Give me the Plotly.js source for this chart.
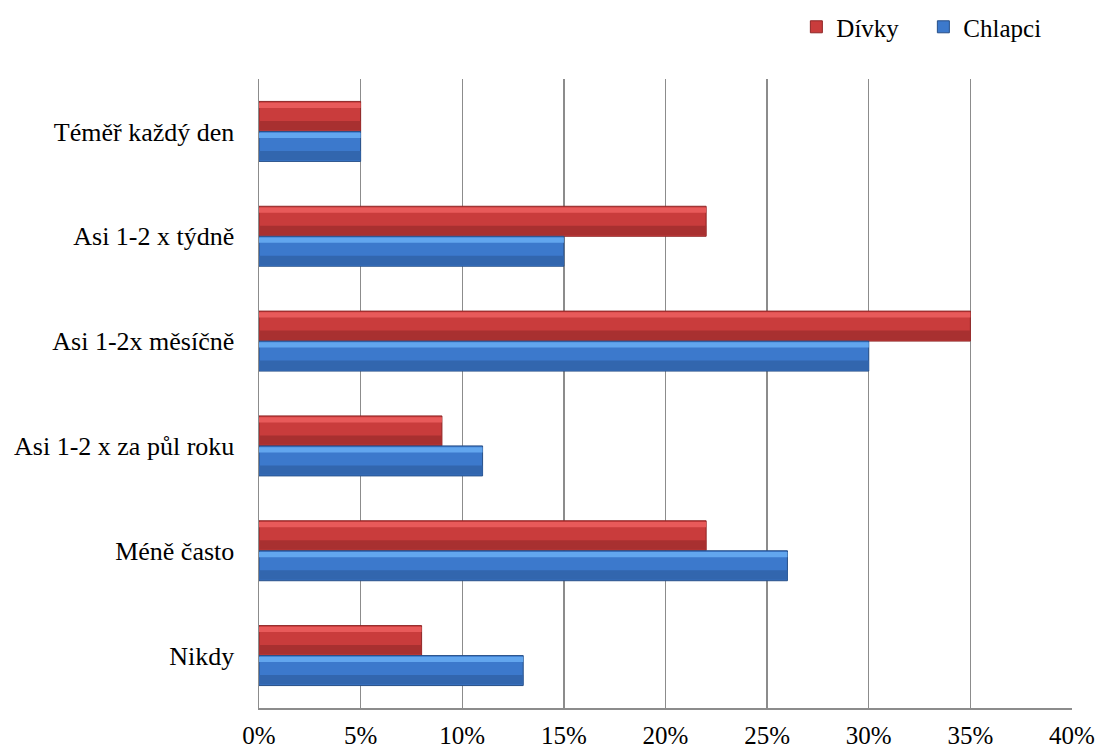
<!DOCTYPE html>
<html>
<head>
<meta charset="utf-8">
<script src="https://cdn.plot.ly/plotly-3.0.1.min.js"></script>
<style>html,body{margin:0;padding:0;background:#fff;}#chart{width:1103px;height:751px;}</style>
</head>
<body>
<div id="chart"></div>
<script>
const categories = ["Téměř každý den", "Asi 1-2 x týdně", "Asi 1-2x měsíčně", "Asi 1-2 x za půl roku", "Méně často", "Nikdy"];
const divky = [0.05, 0.22, 0.35, 0.09, 0.22, 0.08];
const chlapci = [0.05, 0.15, 0.30, 0.11, 0.26, 0.13];
const xTickVals = [0, 0.05, 0.10, 0.15, 0.20, 0.25, 0.30, 0.35, 0.40];
const xTickText = ["0%", "5%", "10%", "15%", "20%", "25%", "30%", "35%", "40%"];

const BW = 0.286;
function bar(vals, name, color, offset, width, legend, lineColor) {
  return {
    type: 'bar', orientation: 'h', x: vals, y: categories, name: name,
    offset: offset, width: width, showlegend: legend, hoverinfo: legend ? 'x+name' : 'skip',
    marker: {color: color, line: {width: lineColor ? 1 : 0, color: lineColor || color}}
  };
}
const traces = [
  bar(divky, 'Dívky', '#C93C3C', -BW, BW, true, '#8E2626'),
  bar(divky, 'Dívky_hl', '#E85A5A', -BW + 0.012, 0.05, false),
  bar(divky, 'Dívky_sh', '#A83030', -0.1, 0.09, false),
  bar(chlapci, 'Chlapci', '#3C79CC', 0, BW, true, '#274F87'),
  bar(chlapci, 'Chlapci_hl', '#62A6EE', 0.012, 0.05, false),
  bar(chlapci, 'Chlapci_sh', '#3266AE', BW - 0.1, 0.09, false)
];

const FONT = "Liberation Serif";
const layout = {
  width: 1103, height: 751,
  margin: {l: 259, r: 31, t: 79, b: 43, pad: 0},
  paper_bgcolor: '#fff', plot_bgcolor: '#fff',
  font: {family: FONT, size: 26, color: '#000'},
  barmode: 'overlay',
  showlegend: true,
  legend: {orientation: 'h', xref: 'container', yref: 'container', x: 0.722, xanchor: 'left',
           y: 0.964, yanchor: 'middle', entrywidth: 82, entrywidthmode: 'pixels',
           font: {family: FONT, size: 25}, bgcolor: 'rgba(0,0,0,0)', itemwidth: 30},
  xaxis: {range: [0, 0.40], tickvals: xTickVals, ticktext: xTickText,
          tickfont: {family: FONT, size: 25},
          showgrid: true, gridcolor: '#8C8C8C', gridwidth: 1.3,
          showline: true, linecolor: '#8C8C8C', linewidth: 1.5, mirror: false,
          zeroline: false, ticks: '', ticklabelstandoff: 4, fixedrange: true, automargin: false},
  yaxis: {type: 'category', categoryorder: 'array', categoryarray: categories,
          range: [5.5, -0.5], showgrid: false, showline: true, linecolor: '#8C8C8C', linewidth: 1.5,
          ticks: '', ticklabelstandoff: 18, zeroline: false, fixedrange: true, automargin: false}
};
Plotly.newPlot('chart', traces, layout, {displayModeBar: false, staticPlot: true});
</script>
</body>
</html>
